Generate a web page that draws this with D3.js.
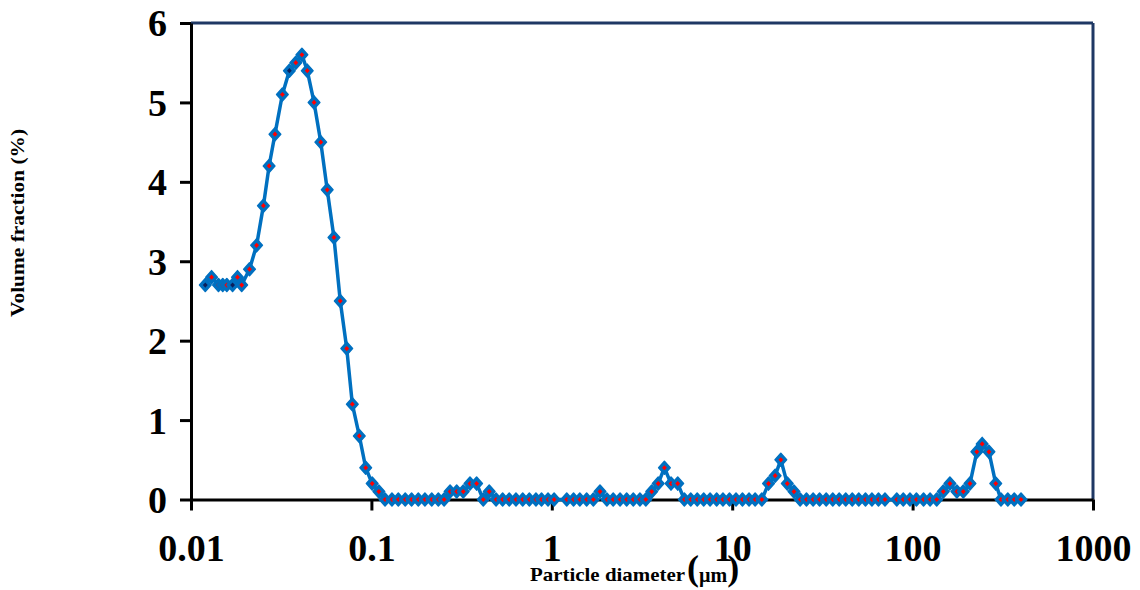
<!DOCTYPE html>
<html>
<head>
<meta charset="utf-8">
<script src="https://cdn.jsdelivr.net/npm/d3@7"></script>
<style>
  html, body { margin: 0; padding: 0; background: #fff; }
  svg { display: block; }
</style>
</head>
<body>
<svg id="chart" width="1140" height="590"></svg>
<script>
// Particle diameter (µm) of each measured bin
const diameters = [
  0.0120,0.0130,0.0142,0.0150,0.0158,0.0170,0.0181,0.0191,0.0211,0.0231,
  0.0252,0.0271,0.0292,0.0321,0.0351,0.0381,0.0412,0.0441,0.0481,0.0524,
  0.0569,0.0620,0.0672,0.0730,0.0784,0.0857,0.0930,0.101,0.110,0.119,
  0.130,0.141,0.154,0.167,0.182,0.198,0.216,0.235,0.253,0.273,
  0.297,0.323,0.352,0.383,0.417,0.450,0.491,0.534,0.581,0.633,
  0.690,0.751,0.817,0.877,0.953,1.03,1.21,1.32,1.43,1.56,
  1.70,1.85,2.02,2.19,2.39,2.60,2.83,3.08,3.32,3.58,
  3.89,4.21,4.58,4.99,5.43,5.89,6.40,6.95,7.54,8.20,
  8.89,9.66,10.5,11.4,12.4,13.4,14.6,15.9,17.3,18.6,
  20.2,22.0,23.8,25.8,28.1,30.5,33.2,36.1,39.2,42.6,
  46.3,50.3,54.8,59.5,64.7,70.3,81.7,88.8,96.7,105,
  115,125,136,148,161,176,191,208,227,243,
  265,289,309,337,366,399
];
// Volume fraction (%) of each bin
const volumeFraction = [
  2.7,2.8,2.7,2.7,2.7,2.7,2.8,2.7,2.9,3.2,
  3.7,4.2,4.6,5.1,5.4,5.5,5.6,5.4,5.0,4.5,
  3.9,3.3,2.5,1.9,1.2,0.8,0.4,0.2,0.1,0,
  0,0,0,0,0,0,0,0,0,0.1,
  0.1,0.1,0.2,0.2,0,0.1,0,0,0,0,
  0,0,0,0,0,0,0,0,0,0,
  0,0.1,0,0,0,0,0,0,0,0.1,
  0.2,0.4,0.2,0.2,0,0,0,0,0,0,
  0,0,0,0,0,0,0,0.2,0.3,0.5,
  0.2,0.1,0,0,0,0,0,0,0,0,
  0,0,0,0,0,0,0,0,0,0,
  0,0,0,0.1,0.2,0.1,0.1,0.2,0.6,0.7,
  0.6,0.2,0,0,0,0
];
// points whose marker centre is dark navy instead of red
const darkCentres = [0, 5, 14];

const xTicks = [0.01, 0.1, 1, 10, 100, 1000];
const xTickLabels = ["0.01", "0.1", "1", "10", "100", "1000"];
const yTicks = [0, 1, 2, 3, 4, 5, 6];
const yTickLabels = ["0", "1", "2", "3", "4", "5", "6"];
const xTitle = "Particle diameter";
const xUnit = "µm";
const yTitle = "Volume fraction (%)";

const data = diameters.map((d, i) => ({ d, v: volumeFraction[i], i }));

const svg = d3.select("#chart");
const L = 191, R = 1093, T = 23, B = 499.5;
const x = d3.scaleLog().domain([0.01, 1000]).range([L, R]);
const y = d3.scaleLinear().domain([0, 6]).range([B, T]);

const serif = "'Liberation Serif', 'Times New Roman', serif";
const blue = "#0070C0";
const navy = "#1F3864";

// frame: top and right in navy
svg.append("line").attr("x1", L).attr("x2", R).attr("y1", T).attr("y2", T)
  .attr("stroke", navy).attr("stroke-width", 3);
svg.append("line").attr("x1", R).attr("x2", R).attr("y1", T).attr("y2", B)
  .attr("stroke", navy).attr("stroke-width", 3);

// x axis
const gx = svg.append("g").attr("transform", `translate(0,${B})`)
  .call(d3.axisBottom(x).tickValues(xTicks)
    .tickFormat((d, i) => xTickLabels[i]).tickSize(11).tickSizeOuter(0));
gx.select(".domain").attr("stroke", "#000").attr("stroke-width", 3);
gx.selectAll(".tick line").attr("stroke", "#000").attr("stroke-width", 3);
gx.selectAll(".tick text").attr("fill", "#000")
  .attr("font-family", serif).attr("font-weight", "bold").attr("font-size", 38)
  .attr("y", 61).attr("dy", 0);

// y axis
const gy = svg.append("g").attr("transform", `translate(${L},0)`)
  .call(d3.axisLeft(y).tickValues(yTicks)
    .tickFormat((d, i) => yTickLabels[i]).tickSize(11).tickSizeOuter(0));
gy.select(".domain").attr("stroke", "#000").attr("stroke-width", 3);
gy.selectAll(".tick line").attr("stroke", "#000").attr("stroke-width", 3);
gy.selectAll(".tick text").attr("fill", "#000")
  .attr("font-family", serif).attr("font-weight", "bold").attr("font-size", 38)
  .attr("x", -24).attr("dy", "0.34em");

// line
svg.append("path").datum(data)
  .attr("fill", "none").attr("stroke", blue).attr("stroke-width", 3.5)
  .attr("stroke-linejoin", "round")
  .attr("d", d3.line().x(p => x(p.d)).y(p => y(p.v)));

// markers, drawn point by point so each overlaps the previous one
const m = svg.append("g").selectAll("g").data(data).join("g")
  .attr("transform", p => `translate(${x(p.d)},${y(p.v)})`);
m.append("path").attr("d", "M0,-6.5L5.8,0L0,6.5L-5.8,0Z")
  .attr("fill", blue).attr("stroke", blue).attr("stroke-width", 1.5)
  .attr("stroke-linejoin", "round");
m.append("path").attr("d", "M0,-2.6L2.4,0L0,2.6L-2.4,0Z")
  .attr("fill", p => darkCentres.includes(p.i) ? "#0B1F5C" : "#FF0000");

// axis titles
svg.append("text").attr("x", 530).attr("y", 581)
  .attr("font-family", serif).attr("font-weight", "bold").attr("fill", "#000")
  .attr("font-size", 19).attr("textLength", 155).attr("lengthAdjust", "spacingAndGlyphs")
  .text(xTitle);
const pu = svg.append("text").attr("x", 687).attr("y", 580)
  .attr("font-family", serif).attr("font-weight", "bold").attr("fill", "#000");
pu.append("tspan").attr("font-size", 36).text("(");
pu.append("tspan").attr("font-size", 20).attr("dy", 2).text(xUnit);
pu.append("tspan").attr("font-size", 36).attr("dy", -2).text(")");

svg.append("text").attr("transform", "translate(24,223) rotate(-90)")
  .attr("text-anchor", "middle")
  .attr("font-family", serif).attr("font-weight", "bold").attr("font-size", 18)
  .attr("textLength", 188).attr("lengthAdjust", "spacingAndGlyphs")
  .attr("fill", "#000").text(yTitle);
</script>
</body>
</html>
